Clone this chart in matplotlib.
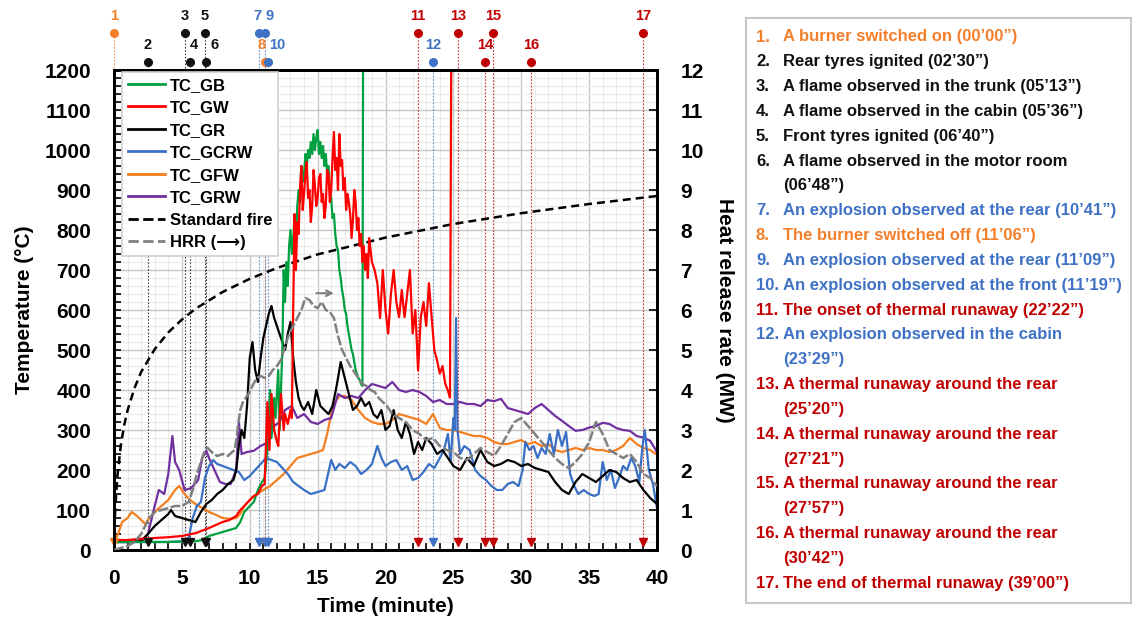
import matplotlib
matplotlib.use('Agg')
import matplotlib.pyplot as plt
from matplotlib.lines import Line2D
from matplotlib.patches import Rectangle
from matplotlib.ticker import MultipleLocator

plt.rcParams['font.family'] = ['Liberation Sans', 'DejaVu Sans']
plt.rcParams['font.weight'] = 'bold'
plt.rcParams['axes.labelweight'] = 'bold'

# ---- data (time in minutes, temperature in degC, HRR in MW) ----
gb_t = [0, 1, 2, 3, 4, 5, 6, 6.5, 7, 7.5, 8, 8.5, 9, 9.3, 9.6, 10, 10.3, 10.6, 10.9, 11.1,
        11.3, 11.5, 11.6, 11.8, 11.9, 12.1, 12.2,
        12.4, 12.5, 12.6, 12.7, 12.8, 12.9, 13.0, 13.1, 13.2, 13.3,
        13.4, 13.5, 13.6, 13.7, 13.8, 13.9, 14.0, 14.1, 14.2, 14.3,
        14.4, 14.5, 14.6, 14.7, 14.8, 14.9, 15.0, 15.1, 15.2, 15.3,
        15.4, 15.5, 15.6, 15.7, 15.8, 15.9, 16.0, 16.1, 16.2, 16.3,
        16.4, 16.5, 16.6, 16.7, 16.8, 16.9, 17.0, 17.1, 17.2, 17.3,
        17.4, 17.5, 17.6, 17.7, 17.8, 17.9, 18.0, 18.1, 18.2, 18.3, 18.35]
gb_v = [20, 20, 20, 20, 20, 21, 22, 25, 35, 40, 45, 50, 55, 70, 95, 110, 120, 150, 170, 180,
        250, 400, 280, 380, 330, 450, 300,
        500, 700, 620, 720, 660, 760, 800, 740, 780, 830,
        760, 860, 900, 870, 960, 920, 940, 990, 960, 1000,
        980, 1020, 990, 1040, 1000, 1030, 1050, 990, 1020, 980,
        1010, 960, 990, 940, 960, 900, 880, 830, 840, 790,
        760, 750, 700, 680, 650, 630, 600, 590, 560, 540,
        520, 500, 490, 470, 450, 440, 430, 425, 415, 410, 1300]

gw_t = [0, 1, 2, 3, 4, 5, 6, 7, 8, 8.5, 9, 9.3, 9.6, 10, 10.3, 10.6, 10.9, 11.1, 11.3, 11.45,
        11.6, 11.8, 12.0, 12.1, 12.3, 12.5, 12.6, 12.8, 13.0, 13.1,
        13.2, 13.3, 13.4, 13.5, 13.6, 13.7, 13.8, 13.9, 14.0, 14.1,
        14.2, 14.3, 14.4, 14.5, 14.6, 14.7, 14.8, 14.9, 15.0, 15.1,
        15.2, 15.3, 15.4, 15.5, 15.6, 15.7, 15.8, 15.9, 16.0, 16.1,
        16.2, 16.3, 16.4, 16.5, 16.6, 16.7, 16.8, 16.9, 17.0, 17.1,
        17.2, 17.3, 17.4, 17.5, 17.6, 17.7, 17.8, 17.9, 18.0, 18.1,
        18.2, 18.3, 18.4, 18.5, 18.6, 18.7, 18.8,
        19.0, 19.2, 19.4, 19.6, 19.8, 20.0, 20.2, 20.4, 20.6, 20.8,
        21.0, 21.2, 21.4, 21.6, 21.8, 22.0, 22.2, 22.4, 22.6, 22.8,
        23.0, 23.2, 23.4, 23.6, 23.8, 24.0, 24.2, 24.4, 24.6, 24.75, 24.85]
gw_v = [25, 25, 28, 30, 32, 35, 42, 55, 70, 75, 85, 100, 110, 125, 135, 140, 160, 165, 370, 250,
        390, 300, 270, 260, 390, 300, 340, 315, 350, 330,
        600, 840, 700, 820, 790, 900, 960, 850, 890, 940,
        970, 880, 900, 820, 860, 950, 910, 860, 880, 930,
        940, 870, 890, 830, 860, 950, 940, 870, 900, 980,
        1045, 950, 980, 900, 1040, 960, 975, 900, 930, 850,
        890, 870, 840, 780, 825, 900, 870, 800, 830, 760,
        790, 720, 760, 700, 740, 680, 780,
        720, 700, 667, 580, 700, 600, 541, 640, 700, 620,
        582, 650, 582, 640, 700, 541, 600, 449, 582, 620,
        560, 667, 582, 499, 474, 441, 460, 416, 398, 381, 1300]

gr_t = [0, 1, 2, 2.5, 3, 3.5, 4, 4.2, 4.5, 5, 5.5, 6, 6.4, 6.8, 7.2, 7.6, 8, 8.4, 8.8, 9.0,
        9.2, 9.4, 9.6, 9.8, 10.0, 10.2, 10.4, 10.6, 10.8, 11.0, 11.2, 11.4, 11.6, 11.8, 12.0,
        12.2, 12.4, 12.6, 12.8, 13.0, 13.2, 13.4, 13.6, 13.8, 14.0, 14.3, 14.6, 14.9, 15.2, 15.5,
        15.8, 16.1, 16.4, 16.7, 17.0, 17.3, 17.6, 17.9, 18.2, 18.5, 18.8, 19.1, 19.4, 19.7, 20.0,
        20.3, 20.6, 20.9, 21.2, 21.5, 21.8, 22.1, 22.4, 22.7, 23.0, 23.4, 23.8, 24.2, 24.6, 25.0,
        25.5, 26.0, 26.5, 27.0, 27.5, 28.0, 28.5, 29.0, 29.5, 30.0, 30.5, 31.0, 31.5, 32.0, 32.5,
        33.0, 33.5, 34.0, 34.5, 35.0, 35.5, 36.0, 36.5, 37.0, 37.5, 38.0, 38.5, 39.0, 39.5, 40.0]
gr_v = [20, 20, 22, 40, 60, 75, 90, 100, 85, 80, 75, 70, 95, 115, 125, 140, 150, 165, 175, 200,
        260, 300, 280, 360, 480, 520, 450, 420, 480, 530, 560, 590, 610, 580, 560,
        540, 520, 500, 540, 570, 480, 420, 380, 360, 350, 370, 340, 400, 360, 350,
        340, 360, 410, 470, 430, 390, 350, 360, 380, 360, 370, 340, 330, 350, 300,
        310, 350, 300, 280, 320, 290, 240, 270, 250, 280, 265, 240, 250, 230, 210,
        200, 230, 210, 250, 220, 210, 215, 225, 220, 210, 215, 205, 200, 195, 170,
        150, 140, 170, 190, 180, 170, 185, 200, 195, 180, 170, 175, 150, 130, 115]

gcrw_t = [0, 2, 4, 5, 5.5, 5.8, 6.1, 6.4, 6.7, 7.0, 7.3, 7.6, 8.0, 8.4, 8.8, 9.2, 9.6, 10.0, 10.4, 10.8,
          11.2, 11.6, 12.0, 12.4, 12.8, 13.2, 13.6, 14.0, 14.5, 15.0, 15.5, 16.0, 16.3, 16.6, 17.0,
          17.4, 17.8, 18.2, 18.6, 19.0, 19.4, 19.7, 20.0, 20.4, 20.8, 21.2, 21.6, 22.0, 22.4, 22.8,
          23.2, 23.6, 24.0, 24.3, 24.6, 24.8, 25.0, 25.1, 25.2, 25.3, 25.5, 25.8, 26.2, 26.6, 27.0,
          27.4, 27.8, 28.2, 28.6, 29.0, 29.4, 29.8, 30.1, 30.3, 30.6, 30.9, 31.2, 31.5, 31.8, 32.1,
          32.4, 32.7, 33.0, 33.3, 33.6, 33.9, 34.2, 34.6, 35.0, 35.4, 35.7, 36.0, 36.3, 36.6, 36.9,
          37.2, 37.5, 37.8, 38.1, 38.4, 38.7, 38.9, 39.1, 39.4, 39.7, 40.0]
gcrw_v = [20, 20, 20, 22, 30, 80, 110, 120, 180, 210, 225, 215, 210, 205, 200, 195, 175, 185, 200, 215,
          230, 225, 220, 205, 190, 170, 160, 150, 140, 145, 150, 225, 200, 215, 205,
          220, 210, 190, 200, 215, 260, 230, 210, 220, 225, 200, 210, 175, 180, 195,
          215, 205, 230, 250, 290, 220, 330, 300, 580, 300, 240, 260, 250, 200, 185,
          175, 160, 150, 150, 165, 170, 160, 200, 270, 250, 260, 230, 255, 240, 290,
          240, 300, 260, 295, 190, 160, 140, 150, 140, 135, 140, 220, 175, 200, 155,
          180, 210, 200, 230, 210, 170, 250, 300, 200, 165, 105]

gfw_t = [0, 0.3, 0.6, 1.0, 1.3, 1.7, 2.0, 2.3, 2.6, 3.0, 3.5, 4.0, 4.5, 4.8, 5.2, 5.6, 6.0, 6.5, 7.0, 7.5,
         8.0, 8.5, 9.0, 9.3, 9.6, 10.0, 10.5, 11.0, 11.5, 12.0, 12.5, 13.0, 13.5, 14.0, 14.5, 15.0,
         15.4, 15.7, 16.0, 16.3, 16.6, 17.0, 17.5, 18.0, 18.5, 19.0, 19.5, 20.0, 20.5, 21.0, 21.5,
         22.0, 22.5, 23.0, 23.5, 24.0, 24.5, 25.0, 25.5, 26.0, 26.5, 27.0, 27.5, 28.0, 28.5, 29.0,
         29.5, 30.0, 30.5, 31.0, 31.5, 32.0, 32.5, 33.0, 33.5, 34.0, 34.5, 35.0, 35.5, 36.0, 36.5,
         37.0, 37.5, 38.0, 38.5, 39.0, 39.5, 40.0]
gfw_v = [20, 40, 70, 80, 95, 85, 75, 65, 80, 95, 110, 125, 150, 160, 140, 125, 115, 105, 95, 88,
         80, 78, 80, 90, 110, 125, 140, 150, 160, 175, 190, 210, 230, 235, 240, 245,
         250, 290, 340, 370, 385, 385, 375, 350, 330, 320, 315, 315, 325, 340, 335,
         330, 325, 315, 340, 305, 300, 300, 295, 290, 285, 285, 280, 270, 265, 265,
         270, 275, 265, 270, 260, 265, 250, 245, 250, 255, 250, 255, 250, 250, 245,
         250, 260, 280, 265, 255, 250, 238]

grw_t = [0, 1, 2, 2.5, 3, 3.3, 3.7, 4.0, 4.3, 4.5, 4.8, 5.2, 5.7, 6.2, 6.5, 6.8, 7.0, 7.4, 7.8, 8.2,
         8.6, 9.0, 9.2, 9.4, 9.8, 10.3, 10.8, 11.4, 11.8, 12.2, 12.6, 13.1, 13.5, 14.0, 14.5, 15.0,
         15.5, 16.0, 16.5, 17.0, 17.5, 18.0, 18.5, 19.0, 19.5, 20.0, 20.5, 21.0, 21.5, 22.0, 22.5,
         23.0, 23.5, 24.0, 24.5, 25.0, 25.5, 26.0, 26.5, 27.0, 27.5, 28.0, 28.5, 29.0, 29.5, 30.0,
         30.5, 31.0, 31.5, 32.0, 32.5, 33.0, 33.5, 34.0, 34.5, 35.0, 35.5, 36.0, 36.5, 37.0, 37.5,
         38.0, 38.5, 39.0, 39.5, 40.0]
grw_v = [20, 20, 22, 40, 110, 150, 140, 190, 285, 220, 200, 150, 155, 175, 230, 248, 230, 200, 170, 165,
         165, 200, 320, 240, 245, 248, 260, 270, 310, 320, 350, 360, 330, 340, 320, 315,
         325, 330, 390, 380, 385, 380, 400, 415, 410, 405, 420, 400, 395, 400, 395,
         385, 370, 375, 365, 365, 370, 365, 365, 360, 375, 372, 378, 355, 350, 345,
         340, 355, 365, 350, 335, 323, 310, 298, 300, 306, 310, 318, 315, 305, 300,
         298, 285, 281, 273, 245]

hrr_t = [0, 0.5, 1, 1.5, 2.0, 2.3, 2.6, 3.0, 3.5, 4.0, 4.5, 5.0, 5.5, 5.8, 6.1, 6.4, 6.7, 6.9, 7.2, 7.6,
         8.0, 8.4, 8.7, 8.9, 9.1, 9.3, 9.5, 9.7, 9.9, 10.2, 10.5, 10.8, 11.1, 11.4, 11.7, 12.0, 12.3,
         12.6, 12.9, 13.2, 13.5, 13.8, 14.1, 14.4, 14.7, 15.0, 15.3, 15.6, 15.9, 16.2, 16.5, 16.8,
         17.1, 17.4, 17.7, 18.0, 18.3, 18.6, 18.9, 19.2, 19.5, 19.8, 20.1, 20.5, 21.0, 21.5, 22.0,
         22.5, 23.0, 23.5, 24.0, 24.5, 25.0, 25.5, 26.0, 26.5, 27.0, 27.5, 28.0, 28.5, 29.0, 29.5,
         30.0, 30.5, 31.0, 31.5, 32.0, 32.5, 33.0, 33.5, 34.0, 34.5, 35.0, 35.5, 36.0, 36.5, 37.0,
         37.5, 38.0, 38.5, 39.0, 39.5, 40.0]
hrr_v = [0.0, 0.05, 0.1, 0.2, 0.4, 0.6, 0.8, 0.95, 1.0, 1.05, 1.1, 1.1, 1.2, 1.5, 1.9, 2.2, 2.5, 2.55, 2.45, 2.35,
         2.4, 2.35, 2.45, 2.5, 3.0, 3.5, 3.7, 3.8, 3.9, 4.1, 4.3, 4.35, 4.3, 4.35, 4.5, 4.6, 4.75,
         5.1, 5.4, 5.6, 5.8, 6.0, 6.3, 6.25, 6.1, 6.05, 6.2, 6.0, 5.95, 5.8, 5.35, 5.0,
         4.8, 4.6, 4.45, 4.3, 4.15, 4.1, 4.0, 3.95, 3.8, 3.7, 3.6, 3.4, 3.3, 3.2, 3.0,
         2.9, 2.75, 2.8, 2.6, 2.5, 2.45, 2.3, 2.25, 2.4, 2.55, 2.45, 2.35, 2.6, 2.9, 3.2,
         3.3, 3.1, 2.9, 2.7, 2.5, 2.3, 2.15, 2.05, 2.2, 2.4, 2.7, 3.2, 2.9, 2.5, 2.4,
         2.3, 2.4, 2.2, 1.9, 1.8, 1.6]

std_t = [0, 0.1, 0.25, 0.5, 0.75, 1, 1.5, 2, 3, 4, 5, 6, 8, 10, 12, 15, 20, 25, 30, 35, 40]
std_v = [20, 108, 185, 261, 312, 349, 404, 445, 502, 544, 576, 603, 645, 678, 705, 739, 781, 815, 842, 865, 885]

event_t = [0, 2.5, 5.22, 5.6, 6.67, 6.8, 10.68, 11.1, 11.15, 11.32,
           22.37, 23.48, 25.33, 27.35, 27.95, 30.7, 39.0]
event_kind = ['o', 'k', 'k', 'k', 'k', 'k', 'b', 'o', 'b', 'b',
              'r', 'b', 'r', 'r', 'r', 'r', 'r']

notes = [
    ('1.', 'A burner switched on (00\u201900\u201d)', 'o'),
    ('2.', 'Rear tyres ignited (02\u201930\u201d)', 'k'),
    ('3.', 'A flame observed in the trunk (05\u201913\u201d)', 'k'),
    ('4.', 'A flame observed in the cabin (05\u201936\u201d)', 'k'),
    ('5.', 'Front tyres ignited (06\u201940\u201d)', 'k'),
    ('6.', 'A flame observed in the motor room', 'k'),
    ('', '(06\u201948\u201d)', 'k'),
    ('7.', 'An explosion observed at the rear (10\u201941\u201d)', 'b'),
    ('8.', 'The burner switched off (11\u201906\u201d)', 'o'),
    ('9.', 'An explosion observed at the rear (11\u201909\u201d)', 'b'),
    ('10.', 'An explosion observed at the front (11\u201919\u201d)', 'b'),
    ('11.', 'The onset of thermal runaway (22\u201922\u201d)', 'r'),
    ('12.', 'An explosion observed in the cabin', 'b'),
    ('', '(23\u201929\u201d)', 'b'),
    ('13.', 'A thermal runaway around the rear', 'r'),
    ('', '(25\u201920\u201d)', 'r'),
    ('14.', 'A thermal runaway around the rear', 'r'),
    ('', '(27\u201921\u201d)', 'r'),
    ('15.', 'A thermal runaway around the rear', 'r'),
    ('', '(27\u201957\u201d)', 'r'),
    ('16.', 'A thermal runaway around the rear', 'r'),
    ('', '(30\u201942\u201d)', 'r'),
    ('17.', 'The end of thermal runaway (39\u201900\u201d)', 'r'),
]

kind_color = {'o': '#F47F2A', 'k': '#111111', 'b': '#3F72C4', 'r': '#C00000'}

W, H = 1132, 626
fig = plt.figure(figsize=(W / 100, H / 100), dpi=100)
ax = fig.add_axes([114 / W, 76 / H, 543 / W, 480 / H])
ax2 = ax.twinx()

# grid
ax.set_xlim(0, 40)
ax.set_ylim(0, 1200)
ax2.set_ylim(0, 12)
ax.xaxis.set_major_locator(MultipleLocator(5))
ax.xaxis.set_minor_locator(MultipleLocator(1))
ax.yaxis.set_major_locator(MultipleLocator(100))
ax.yaxis.set_minor_locator(MultipleLocator(20))
ax2.yaxis.set_major_locator(MultipleLocator(1))
ax.grid(which='minor', color='#ebebeb', lw=0.8, zorder=0)
ax.grid(which='major', color='#c6c6c6', lw=1.0, zorder=0)
ax.set_axisbelow(True)

# event lines and markers (label nudges keep neighbouring numbers apart)
nudge = {3: 0.25, 5: 0.62, 6: -0.15, 7: -0.2, 8: 0.3, 9: 0.68}
for i, (t, k) in enumerate(zip(event_t, event_kind)):
    c = kind_color[k]
    top_row = (i % 2 == 0)
    ydot = 1292 if top_row else 1220
    ylab = 1336 if top_row else 1263
    ax.plot([t, t], [ydot, 20], ls=(0, (1.5, 1.5)), lw=0.8, color=c, alpha=0.8,
            clip_on=False, zorder=1)
    ax.plot(t, ydot, 'o', ms=5.5, color=c, clip_on=False, zorder=6)
    ax.plot(t, 20, 'v', ms=5.5, color=c, clip_on=False, zorder=6)
    ax.text(t + nudge.get(i, 0), ylab, str(i + 1), ha='center', va='center',
            color=c, fontsize=10.5, fontweight='bold')

# temperature series
ax.plot(std_t, std_v, color='black', lw=1.8, dashes=(3.2, 2), zorder=3)
ax.plot(gfw_t, gfw_v, color='#F47F20', lw=1.6, zorder=3)
ax.plot(grw_t, grw_v, color='#7030A0', lw=1.6, zorder=3)
ax.plot(gcrw_t, gcrw_v, color='#3A70C4', lw=1.6, zorder=3)
ax.plot(gr_t, gr_v, color='black', lw=1.6, zorder=4)
ax.plot(gb_t, gb_v, color='#00A040', lw=1.6, zorder=4)
ax.plot(gw_t, gw_v, color='#FF0000', lw=1.6, zorder=4)

# HRR on right axis
ax2.plot(hrr_t, hrr_v, color='#808080', lw=1.8, dashes=(4, 1), zorder=3)
ax2.annotate('', xy=(16.4, 6.42), xytext=(14.7, 6.42),
             arrowprops=dict(arrowstyle='->', color='#808080', lw=1.5))

# axes styling
for a in (ax, ax2):
    for s in a.spines.values():
        s.set_linewidth(2)
        s.set_color('black')
ax.tick_params(which='both', direction='in', labelsize=15, width=1.2, length=5, top=False)
ax.tick_params(axis='x', pad=14)
ax.tick_params(axis='y', pad=16.5)
ax2.tick_params(direction='in', labelsize=15, width=1.2, length=6, pad=17)
ax.set_xticks(range(0, 41, 5))
ax.set_xlabel('Time (minute)', fontsize=15, fontweight='bold')
ax.set_ylabel('Temperature (\u00b0C)', fontsize=15, fontweight='bold')
ax2.set_ylabel('Heat release rate (MW)', fontsize=15, fontweight='bold', rotation=270)
ax.xaxis.set_label_coords(0.5, -0.098)
ax.yaxis.set_label_coords(-0.147, 0.5)
ax2.yaxis.set_label_coords(1.141, 0.5)

# legend
handles = [
    Line2D([], [], color='#00A040', lw=2),
    Line2D([], [], color='#FF0000', lw=2),
    Line2D([], [], color='black', lw=2),
    Line2D([], [], color='#3A70C4', lw=2),
    Line2D([], [], color='#F47F20', lw=2),
    Line2D([], [], color='#7030A0', lw=2),
    Line2D([], [], color='black', lw=2, ls='--'),
    Line2D([], [], color='#808080', lw=2, ls='--'),
]
labels = ['TC_GB', 'TC_GW', 'TC_GR', 'TC_GCRW', 'TC_GFW', 'TC_GRW', 'Standard fire',
          'HRR (\u27f6)']
leg = ax2.legend(handles, labels, loc='upper left', bbox_to_anchor=(0.015, 0.996),
                 borderaxespad=0, fancybox=False, framealpha=1, edgecolor='#d0d0d0',
                 prop={'size': 12, 'weight': 'bold'}, handlelength=2.2, handletextpad=0.3,
                 labelspacing=0.45, borderpad=0.35)
leg.get_frame().set_linewidth(1.2)
leg.set_zorder(10)

# right-hand notes box
fig.patches.append(Rectangle((746 / W, (H - 603) / H), (1131 - 746) / W, (603 - 18) / H,
                             transform=fig.transFigure, fill=False, edgecolor='#c8c8c8', lw=1.5))
y0, step = 37, 24.83
for j, (num, txt, k) in enumerate(notes):
    yy = 1 - (y0 + j * step) / H
    c = kind_color[k]
    if num:
        fig.text(756 / W, yy, num, color=c, fontsize=12, fontweight='bold', va='center')
    fig.text(783 / W, yy, txt, color=c, fontsize=12, fontweight='bold', va='center')

fig.savefig('out.png', dpi=100)
